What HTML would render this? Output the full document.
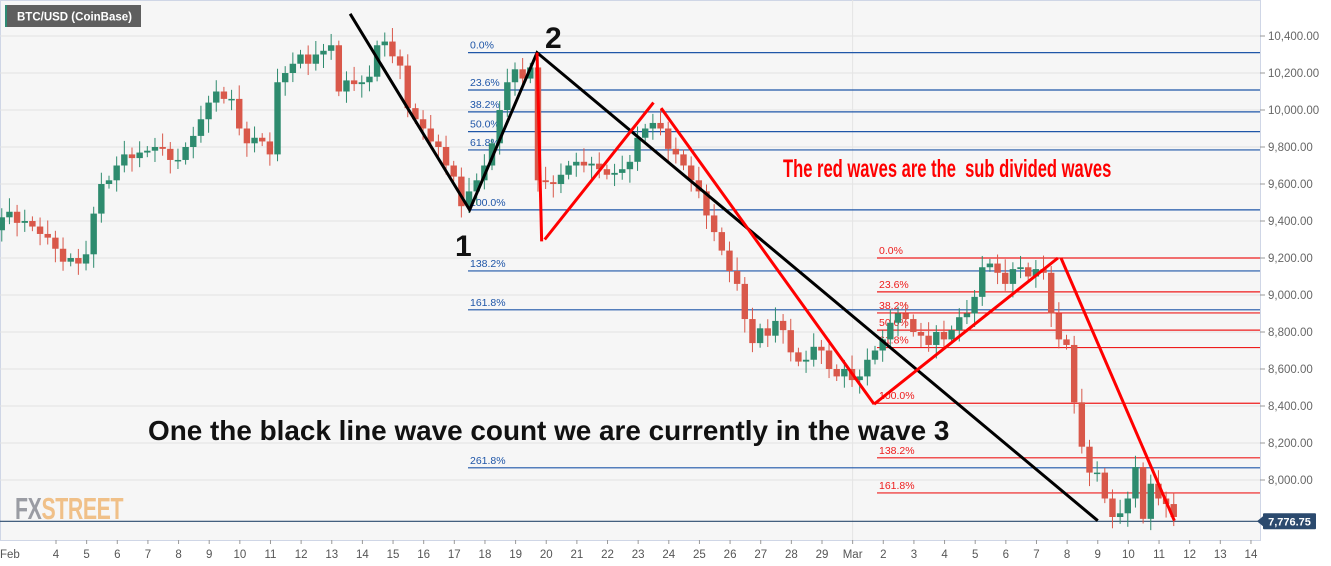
<!DOCTYPE html>
<html><head><meta charset="utf-8"><style>
html,body{margin:0;padding:0;background:#fff;}
svg{display:block;font-family:"Liberation Sans",sans-serif;}
</style></head><body>
<svg id="chart" width="1331" height="566" xmlns="http://www.w3.org/2000/svg">
<rect x="0" y="0" width="1260" height="540" fill="#f6f6f6"/>
<rect x="0.5" y="0.5" width="1260" height="540" fill="none" stroke="#cfd6e6"/>
<g id="grid"></g>
<g id="fibs"></g>
<g id="candles"></g>
<g id="waves"></g>
<g id="axes"></g>
<g>
<rect x="5" y="5" width="136" height="22" fill="#5f5f5f"/>
<rect x="5" y="5" width="2" height="22" fill="#2e8b74"/>
<text x="17" y="20.5" font-size="11.5" font-weight="bold" fill="#fff">BTC/USD (CoinBase)</text>
</g>
<text transform="translate(15,519) scale(0.76,1.1)" x="0" y="0" font-size="28" font-weight="bold" letter-spacing="-0.5"><tspan fill="#9a9ca3">FX</tspan><tspan fill="#f0c088">STREET</tspan></text>
<text x="455" y="256" font-size="30" font-weight="bold" fill="#111">1</text>
<text x="545" y="48" font-size="30" font-weight="bold" fill="#111">2</text>
<text x="148" y="440" font-size="27.9" font-weight="bold" fill="#111">One the black line wave count we are currently in the wave 3</text>
<text transform="translate(783,177) scale(0.72,1.08)" x="0" y="0" font-size="23" font-weight="bold" fill="#f00">The red waves are the&#160; sub divided waves</text>
</svg>
<script>
const priceTicks=[10400,10200,10000,9800,9600,9400,9200,9000,8800,8600,8400,8200,8000];
const dayLabels=["Feb","4","5","6","7","8","9","10","11","12","13","14","15","16","17","18","19","20","21","22","23","24","25","26","27","28","29","Mar","2","3","4","5","6","7","8","9","10","11","12","13","14"];
const dayIndex=[2.5,4,5,6,7,8,9,10,11,12,13,14,15,16,17,18,19,20,21,22,23,24,25,26,27,28,29,30,31,32,33,34,35,36,37,38,39,40,41,42,43];
const closes=[9350,9420,9450,9390,9400,9370,9330,9310,9250,9180,9200,9170,9220,9440,9600,9620,
9700,9760,9740,9770,9780,9800,9790,9730,9730,9800,9860,9950,10040,10100,10060,10060,
9900,9820,9850,9830,9760,10150,10200,10250,10300,10250,10300,10320,10350,10100,10160,10140,
10150,10180,10350,10370,10290,10240,10010,9950,9900,9830,9800,9700,9640,9480,9560,9620,
9700,9820,10000,10150,10220,10170,10230,9620,9610,9600,9650,9700,9720,9700,9710,9680,
9650,9660,9680,9720,9850,9900,9930,9900,9790,9760,9700,9620,9560,9430,9340,9240,
9130,9060,8870,8740,8820,8780,8860,8810,8690,8640,8650,8720,8700,8600,8560,8600,
8540,8560,8650,8700,8760,8850,8900,8870,8800,8780,8730,8800,8760,8810,8880,8900,
8990,9150,9170,9120,9060,9140,9150,9100,9140,9120,8900,8760,8730,8420,8180,8040,
8040,7900,7800,7820,7900,8070,7790,7980,7900,7870,7800];
const firstOpen=9300;
const blueFibLevels=[10310,10108,9990,9883,9784,9460,9130,8920,8066];
const blueFibLabels=["0.0%","23.6%","38.2%","50.0%","61.8%","100.0%","138.2%","161.8%","261.8%"];
const redFibLevels=[9200,9017,8903,8810,8716,8415,8120,7930];
const redFibLabels=["0.0%","23.6%","38.2%","50.0%","61.8%","100.0%","138.2%","161.8%"];
const lastPrice=7776.75;
const blackWave=[[13.6,10520],[17.5,9460],[19.7,10310],[38.0,7780]];
const redWaves=[[[19.7,10310],[19.85,9290]],[[19.95,9300],[23.5,10040]],[[23.75,10010],[30.7,8410]],[[30.7,8410],[36.7,9200]],[[36.8,9200],[40.5,7780]]];

const NS="http://www.w3.org/2000/svg";
const y=p=>36+(10400-p)*0.185;
const xd=d=>56+(d-4)*30.64;
const xc=i=>xd(1.98+i*0.25);
function mk(tag,attrs,parent){const e=document.createElementNS(NS,tag);for(const k in attrs)e.setAttribute(k,attrs[k]);parent.appendChild(e);return e;}
const grid=document.getElementById('grid'),axes=document.getElementById('axes'),fibs=document.getElementById('fibs'),cg=document.getElementById('candles'),wg=document.getElementById('waves');
mk('rect',{x:1261,y:0,width:70,height:566,fill:'#fff'},axes);
mk('rect',{x:0,y:541,width:1261,height:25,fill:'#fff'},axes);
priceTicks.forEach(p=>{
 const g=mk('line',{x1:0,x2:1260,y1:y(p),y2:y(p),stroke:'#e2e2e2'},grid);
 
 
 mk('line',{x1:1260,x2:1265,y1:y(p),y2:y(p),stroke:'#999'},axes);
 const t=mk('text',{x:1268,y:y(p)+4,'font-size':11.5,fill:'#666'},axes);
 t.textContent=p.toLocaleString('en-US',{minimumFractionDigits:2});
 
 
});
mk('line',{x1:xd(30),x2:xd(30),y1:0,y2:540,stroke:'#e4e4e4'},grid);
dayLabels.forEach((l,i)=>{
 const x=xd(dayIndex[i]);
 if(i>0)mk('line',{x1:x,x2:x,y1:540,y2:544,stroke:'#999'},axes);
 const t=mk('text',{x:i==0?0:x,y:558,'font-size':11.5,fill:'#555','text-anchor':i==0?'start':'middle'},axes);
 t.textContent=l;
 
 
});
function fibSet(levels,labels,x0,col,name){
 levels.forEach((p,i)=>{
  const l=mk('line',{x1:x0,x2:1260,y1:y(p),y2:y(p),stroke:col,'stroke-width':1.2},fibs);
  
  
  const t=mk('text',{x:x0+2,y:y(p)-4,'font-size':10.5,fill:col},fibs);
  t.textContent=labels[i];
  
  
 });
}
fibSet(blueFibLevels,blueFibLabels,468,'#1f56a8','blue-fib');
fibSet(redFibLevels,redFibLabels,877,'#ee1c1c','red-fib');
closes.forEach((c,i)=>{
 const o=i?closes[i-1]:firstOpen;
 const up=c>=o,col=up?'#2e8b6e':'#d9584a';
 const hi=Math.max(o,c)+25+(i*37%5)*12,lo=Math.min(o,c)-25-(i*53%5)*12;
 const x=xc(i);
 const w=mk('line',{x1:x,x2:x,y1:y(hi),y2:y(lo),stroke:col,'stroke-width':1},cg);
 
 
 const b=mk('rect',{x:x-3.2,y:y(Math.max(o,c)),width:6.4,height:Math.max(1.5,Math.abs(y(o)-y(c))),fill:col},cg);
 
 
});
const lp=mk('line',{x1:0,x2:1260,y1:y(lastPrice),y2:y(lastPrice),stroke:'#2b4a6e','stroke-width':1.2},fibs);


const tag=mk('rect',{x:1263,y:y(lastPrice)-8,width:53,height:16,fill:'#2b4a6e',rx:1},axes);


mk('path',{d:`M1257 ${y(lastPrice)} L1263 ${y(lastPrice)-5} L1263 ${y(lastPrice)+5}Z`,fill:'#2b4a6e'},axes);
const tt=mk('text',{x:1289.5,y:y(lastPrice)+4,'font-size':11,'font-weight':'bold',fill:'#fff','text-anchor':'middle'},axes);
tt.textContent=lastPrice.toLocaleString('en-US',{minimumFractionDigits:2});


const bp=mk('polyline',{points:blackWave.map(p=>xd(p[0])+','+y(p[1])).join(' '),fill:'none',stroke:'#000','stroke-width':3},wg);


redWaves.forEach(s=>{
 const r=mk('line',{x1:xd(s[0][0]),y1:y(s[0][1]),x2:xd(s[1][0]),y2:y(s[1][1]),stroke:'#f00','stroke-width':3},wg);
 
 
});
</script>
</body></html>
